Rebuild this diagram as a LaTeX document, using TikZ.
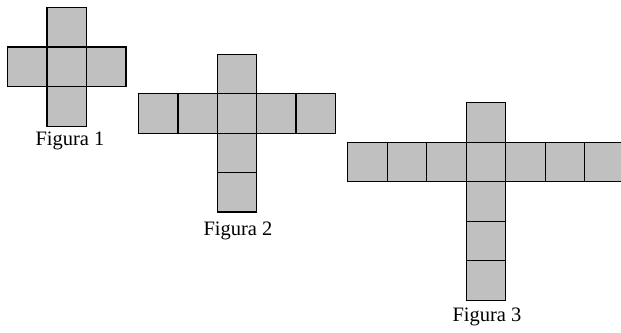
\documentclass[tikz,border=0pt]{standalone}
\usepackage{fontspec}
\setmainfont{Liberation Serif}
\definecolor{facegray}{HTML}{C0C0C0}
\begin{document}
\begin{tikzpicture}[x=1pt,y=-1pt,
  sqA/.style={draw=black,fill=facegray,line width=1.3pt,minimum size=39.6pt,inner sep=0pt,outer sep=0pt},
  sqB/.style={draw=black,fill=facegray,line width=1.3pt,minimum size=39.4pt,inner sep=0pt,outer sep=0pt},
  sqC/.style={draw=black,fill=facegray,line width=1.3pt,minimum size=39.5pt,inner sep=0pt,outer sep=0pt},
  lbl/.style={font=\fontsize{20.5}{24}\selectfont,inner sep=0pt}]
\clip (0,0) rectangle (621,332);
\fill[white] (0,0) rectangle (621,332);
% Figura 1
\foreach \i/\dx/\dy in {a/0/-1,b/-1/0,c/0/0,d/1/0,e/0/1}
  \node[sqA] (f1\i) at (66.7+39.6*\dx,66.8+39.6*\dy) {};
\node[lbl] (l1) at (70,141) {Figura 1};
% Figura 2
\foreach \i/\dx/\dy in {a/0/-1,b/-2/0,c/-1/0,d/0/0,e/1/0,f/2/0,g/0/1,h/0/2}
  \node[sqB] (f2\i) at (237+39.4*\dx,113.5+39.4*\dy) {};
\node[lbl] (l2) at (238,231) {Figura 2};
% Figura 3
\foreach \i/\dx/\dy in {a/0/-1,b/-3/0,c/-2/0,d/-1/0,e/0/0,f/1/0,g/2/0,h/3/0,k/0/1,m/0/2,n/0/3}
  \node[sqC] (f3\i) at (486+39.5*\dx,162+39.5*\dy) {};
\node[lbl] (l3) at (487,317) {Figura 3};
\end{tikzpicture}
\end{document}
